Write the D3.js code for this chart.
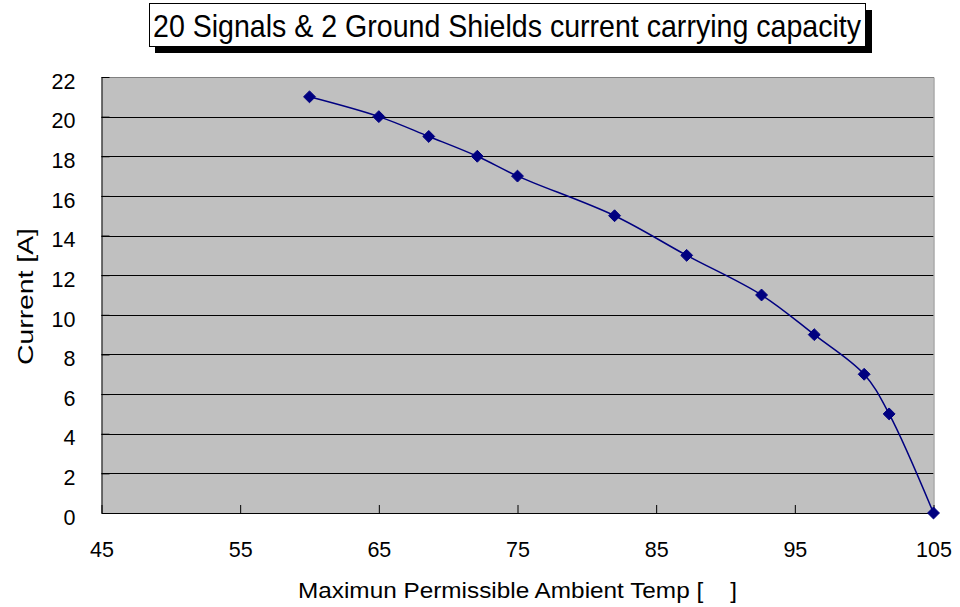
<!DOCTYPE html>
<html>
<head>
<meta charset="utf-8">
<script src="https://cdn.jsdelivr.net/npm/d3@7"></script>
<style>
  html, body { margin: 0; padding: 0; background: #fff; }
  svg { display: block; }
  text { font-family: "Liberation Sans", Arial, sans-serif; fill: #000; }
</style>
</head>
<body>
<svg id="chart" width="960" height="607"></svg>
<script>
// Data
const temps = [60, 65, 68.6, 72.1, 75, 82, 87.2, 92.6, 96.4, 100, 101.8, 105];
const currents = [21, 20, 19, 18, 17, 15, 13, 11, 9, 7, 5, 0];
const xTicks = [45, 55, 65, 75, 85, 95, 105];
const yTicks = [0, 2, 4, 6, 8, 10, 12, 14, 16, 18, 20, 22];
const titleText = "20 Signals & 2 Ground Shields current carrying capacity";
const xLabel = "Maximun Permissible Ambient Temp [    ]";
const yLabel = "Current [A]";

const svg = d3.select("#chart");
const W = 960, H = 607;
const plot = { left: 101.5, right: 933.5, top: 77, bottom: 513 };

const x = d3.scaleLinear().domain([45, 105]).range([plot.left, plot.right]);
const y = d3.scaleLinear().domain([0, 22]).range([plot.bottom, plot.top]);

svg.append("rect").attr("width", W).attr("height", H).attr("fill", "#fff");

// Plot background
svg.append("rect")
  .attr("x", plot.left).attr("y", plot.top)
  .attr("width", plot.right - plot.left).attr("height", plot.bottom - plot.top)
  .attr("fill", "#c0c0c0");

// Gridlines
svg.append("g").selectAll("line").data(yTicks.filter(d => d > 0 && d < 22)).join("line")
  .attr("x1", plot.left).attr("x2", plot.right)
  .attr("y1", d => Math.round(y(d)) + 0.5).attr("y2", d => Math.round(y(d)) + 0.5)
  .attr("stroke", "#000").attr("stroke-width", 1);

// Top and right border (gray)
svg.append("path")
  .attr("d", `M${plot.left},${plot.top + 0.5}H${plot.right + 0.5}V${plot.bottom}`)
  .attr("fill", "none").attr("stroke", "#808080").attr("stroke-width", 1);

// Y axis (ticks inside)
const yAxis = d3.axisLeft(y).tickValues(yTicks).tickSizeInner(-8).tickSizeOuter(0).tickPadding(26);
const gy = svg.append("g").attr("transform", `translate(${plot.left},0)`).call(yAxis);
gy.select(".domain").attr("stroke", "#000");
gy.selectAll(".tick line").attr("stroke", "#000");
gy.selectAll(".tick text")
  .attr("font-size", 21.5).attr("font-family", '"Liberation Sans", Arial, sans-serif')
  .attr("fill", "#000").attr("dy", "0.52em");

// X axis (ticks inside)
const xAxis = d3.axisBottom(x).tickValues(xTicks).tickSizeInner(-8).tickSizeOuter(0).tickPadding(29);
const gx = svg.append("g").attr("transform", `translate(0,${plot.bottom})`).call(xAxis);
gx.select(".domain").attr("stroke", "#000");
gx.selectAll(".tick line").attr("stroke", "#000");
gx.selectAll(".tick text")
  .attr("font-size", 21.5).attr("font-family", '"Liberation Sans", Arial, sans-serif')
  .attr("fill", "#000");

// Series line (smoothed)
const pts = temps.map((t, i) => [t, currents[i]]);
const line = d3.line().x(d => x(d[0])).y(d => y(d[1])).curve(d3.curveCatmullRom.alpha(0.5));
svg.append("path").datum(pts)
  .attr("d", line)
  .attr("fill", "none").attr("stroke", "#000080").attr("stroke-width", 1.5);

// Diamond markers
const diamond = d3.symbol().type(d3.symbolDiamond2).size(90);
svg.append("g").selectAll("path").data(pts).join("path")
  .attr("transform", d => `translate(${x(d[0])},${y(d[1])})`)
  .attr("d", diamond)
  .attr("fill", "#000080").attr("stroke", "#000080").attr("stroke-width", 1);

// Title box with shadow
svg.append("rect").attr("x", 155).attr("y", 10).attr("width", 717).attr("height", 43).attr("fill", "#000");
svg.append("rect").attr("x", 149.5).attr("y", 3.5).attr("width", 716).attr("height", 43)
  .attr("fill", "#fff").attr("stroke", "#000").attr("stroke-width", 1);
svg.append("text")
  .attr("x", 153).attr("y", 37)
  .attr("font-size", 30.5)
  .attr("textLength", 708).attr("lengthAdjust", "spacingAndGlyphs")
  .text(titleText);

// Axis titles
svg.append("text")
  .attr("x", 298).attr("y", 598)
  .attr("font-size", 22)
  .attr("textLength", 439).attr("lengthAdjust", "spacingAndGlyphs")
  .attr("xml:space", "preserve")
  .style("white-space", "pre")
  .text(xLabel);

svg.append("text")
  .attr("transform", `translate(33,365) rotate(-90)`)
  .attr("font-size", 22)
  .attr("textLength", 137).attr("lengthAdjust", "spacingAndGlyphs")
  .attr("xml:space", "preserve")
  .style("white-space", "pre")
  .text(yLabel);
</script>
</body>
</html>
